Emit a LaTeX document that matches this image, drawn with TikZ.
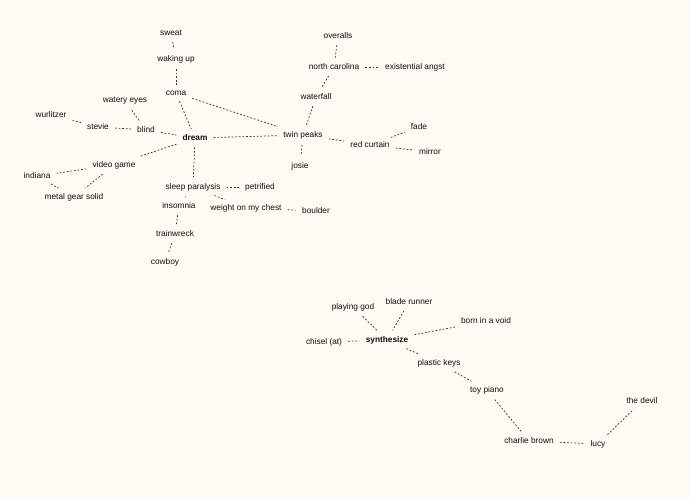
\documentclass[tikz,border=0pt]{standalone}
\usepackage{fontspec}
\setmainfont{Liberation Sans}
\usepackage{xcolor}
\usetikzlibrary{positioning}
\definecolor{MapCream}{RGB}{253, 251, 244}
\definecolor{MapInk}{RGB}{15, 15, 15}
\definecolor{MapDash}{RGB}{50, 50, 50}
\tikzset{
  term/.style={inner sep=3.5pt, text=MapInk, font=\fontsize{8.3}{10}\selectfont},
  hub/.style={term, font=\fontsize{8.3}{10}\selectfont\bfseries},
  link/.style={MapDash, line width=0.7pt, dash pattern=on 1.8pt off 1.8pt, shorten <=2.5pt, shorten >=2.5pt}
}

\begin{document}
\begin{tikzpicture}[x=1pt,y=-1pt]
  \path[use as bounding box] (0,0) rectangle (690,498);
  \fill[MapCream] (0,0) rectangle (690,498);
  % dream cluster
  \node[hub]  (dream)    at (195,138) {dream};
  \node[term] (sweat)    at (171,33)  {sweat};
  \node[term] (waking)   at (176,59)  {waking up};
  \node[term] (coma)     at (176,93)  {coma};
  \node[term] (watery)   at (125,101) {watery eyes};
  \node[term] (wurli)    at (51,115)  {wurlitzer};
  \node[term] (stevie)   at (98,127)  {stevie};
  \node[term] (blind)    at (146,130) {blind};
  \node[term] (vgame)    at (114,165) {video game};
  \node[term] (indiana)  at (37,176)  {indiana};
  \node[term] (mgs)      at (74,197)  {metal gear solid};
  \node[term] (sleep)    at (193,187) {sleep paralysis};
  \node[term] (petri)    at (260,187) {petrified};
  \node[term] (insom)    at (179,206) {insomnia};
  \node[term] (weight)   at (246,208) {weight on my chest};
  \node[term] (boulder)  at (316,211) {boulder};
  \node[term] (train)    at (175,234) {trainwreck};
  \node[term] (cowboy)   at (165,262) {cowboy};
  % twin peaks cluster
  \node[term] (twin)     at (303,135) {twin peaks};
  \node[term] (overalls) at (338,36)  {overalls};
  \node[term] (northc)   at (334,67)  {north carolina};
  \node[term] (angst)    at (415,67)  {existential angst};
  \node[term] (water)    at (316,97)  {waterfall};
  \node[term] (josie)    at (300,166) {josie};
  \node[term] (curtain)  at (370,145) {red curtain};
  \node[term] (fade)     at (419,127) {fade};
  \node[term] (mirror)   at (430,152) {mirror};
  % synthesize cluster
  \node[hub]  (synth)    at (387,340) {synthesize};
  \node[term] (playgod)  at (353,307) {playing god};
  \node[term] (blade)    at (409,302) {blade runner};
  \node[term] (void)     at (486,321) {born in a void};
  \node[term] (chisel)   at (324,342) {chisel (at)};
  \node[term] (plastic)  at (439,363) {plastic keys};
  \node[term] (toy)      at (487,390) {toy piano};
  \node[term] (charlie)  at (529,441) {charlie brown};
  \node[term] (lucy)     at (598,444) {lucy};
  \node[term] (devil)    at (642,401) {the devil};
  % links
  \foreach \a/\b in {sweat/waking, waking/coma, coma/dream, coma/twin,
      watery/blind, wurli/stevie, stevie/blind, blind/dream, dream/twin,
      dream/vgame, dream/sleep, vgame/indiana, vgame/mgs, indiana/mgs,
      sleep/petri, sleep/insom, sleep/weight, weight/boulder, insom/train,
      train/cowboy, overalls/northc, northc/angst, northc/water, water/twin,
      twin/josie, twin/curtain, curtain/fade, curtain/mirror,
      playgod/synth, blade/synth, void/synth, chisel/synth, synth/plastic,
      plastic/toy, toy/charlie, charlie/lucy, lucy/devil}
    \draw[link] (\a) -- (\b);
\end{tikzpicture}
\end{document}
